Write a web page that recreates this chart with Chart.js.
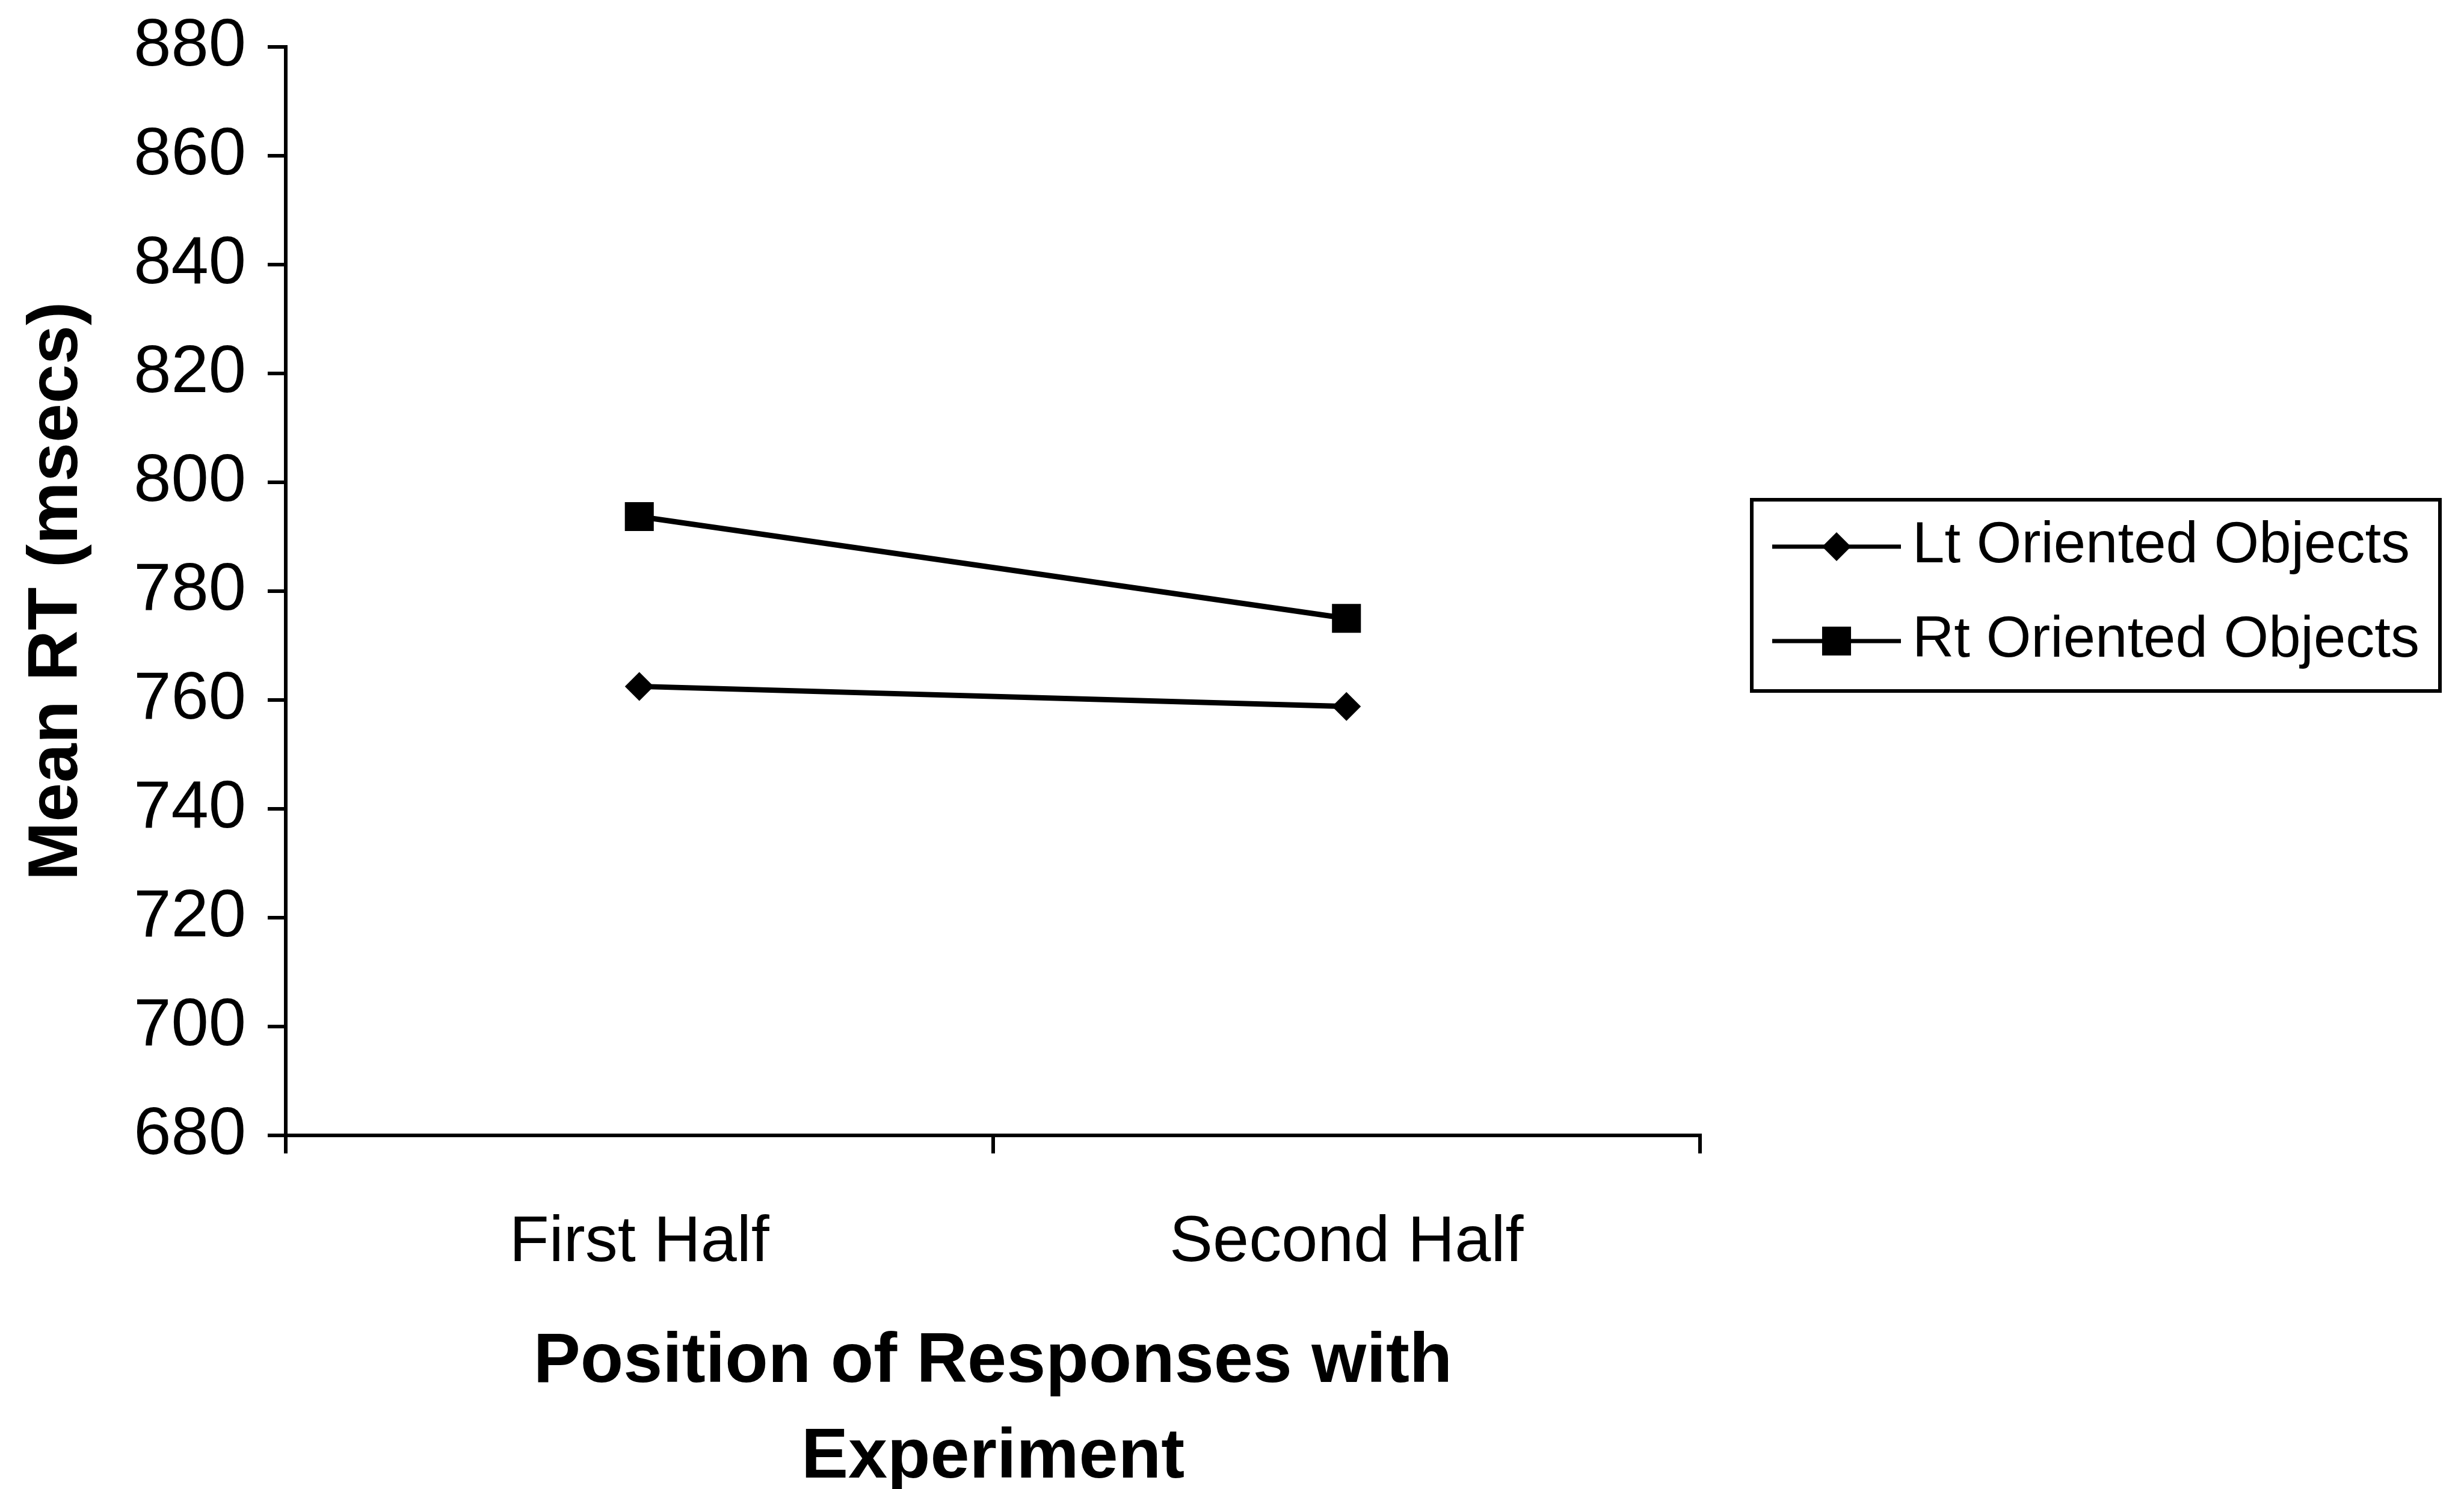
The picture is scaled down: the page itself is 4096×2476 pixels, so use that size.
<!DOCTYPE html>
<html>
<head>
<meta charset="utf-8">
<script src="https://cdn.jsdelivr.net/npm/chart.js@4.4.1/dist/chart.umd.min.js"></script>
<style>
  html, body { margin: 0; padding: 0; background: #fff; }
  #wrap { width: 4096px; height: 2476px; }
</style>
</head>
<body>
<div id="wrap"><canvas id="chart" width="4096" height="2476"></canvas></div>
<script>
// data
const categories = ['First Half', 'Second Half'];
const seriesNames = ['Lt Oriented Objects', 'Rt Oriented Objects'];
const ltOriented = [762.5, 758.8];
const rtOriented = [793.7, 775.0];
const yTicks = [680, 700, 720, 740, 760, 780, 800, 820, 840, 860, 880];

const FONT = '"Liberation Sans", Arial, sans-serif';

// boxed legend on the right, drawn by hand
const boxLegend = {
    id: 'boxLegend',
    afterDraw(chart) {
        const ctx = chart.ctx;
        ctx.save();
        ctx.strokeStyle = '#000';
        ctx.fillStyle = '#000';
        ctx.lineWidth = 6;
        ctx.strokeRect(2912, 831, 1144, 318);

        chart.data.datasets.forEach((ds, i) => {
            const y = 909 + i * 157;
            const cx = 3053;
            ctx.lineWidth = 7;
            ctx.beginPath();
            ctx.moveTo(2946, y);
            ctx.lineTo(3160, y);
            ctx.stroke();

            const r = ds.pointRadius;
            ctx.beginPath();
            if (ds.pointStyle === 'rect') {
                const s = r * Math.SQRT1_2;
                ctx.rect(cx - s, y - s, 2 * s, 2 * s);
            } else {
                ctx.moveTo(cx, y - r);
                ctx.lineTo(cx + r, y);
                ctx.lineTo(cx, y + r);
                ctx.lineTo(cx - r, y);
                ctx.closePath();
            }
            ctx.fill();

            ctx.font = '96px ' + FONT;
            ctx.textBaseline = 'middle';
            ctx.textAlign = 'left';
            ctx.fillText(ds.label, 3179, y);
        });
        ctx.restore();
    }
};

new Chart(document.getElementById('chart'), {
    type: 'line',
    data: {
        labels: categories,
        datasets: [
            {
                label: seriesNames[0],
                data: ltOriented,
                borderColor: '#000',
                backgroundColor: '#000',
                borderWidth: 9,
                pointStyle: 'rectRot',
                pointRadius: 24,
                pointBorderWidth: 0,
                tension: 0
            },
            {
                label: seriesNames[1],
                data: rtOriented,
                borderColor: '#000',
                backgroundColor: '#000',
                borderWidth: 9,
                pointStyle: 'rect',
                pointRadius: 34,
                pointBorderWidth: 0,
                tension: 0
            }
        ]
    },
    options: {
        responsive: false,
        animation: false,
        devicePixelRatio: 1,
        layout: { padding: { top: 78, right: 1270, bottom: 0, left: 0 } },
        plugins: {
            legend: { display: false },
            tooltip: { enabled: false }
        },
        scales: {
            x: {
                offset: true,
                grid: {
                    offset: true,
                    drawOnChartArea: false,
                    drawTicks: true,
                    tickLength: 30,
                    color: '#000',
                    lineWidth: 6
                },
                border: { display: true, color: '#000', width: 6 },
                ticks: {
                    color: '#000',
                    padding: 84,
                    font: { family: FONT, size: 108 }
                },
                title: {
                    display: true,
                    text: ['Position of Responses with', 'Experiment'],
                    color: '#000',
                    font: { family: FONT, size: 117, weight: 'bold', lineHeight: 1.36 },
                    padding: { top: 0, bottom: -28 }
                },
                afterFit(scale) {
                    scale.height = 588;
                    scale.paddingLeft = 0;
                    scale.paddingRight = 0;
                }
            },
            y: {
                min: 680,
                max: 880,
                afterBuildTicks(scale) {
                    scale.ticks = yTicks.map(v => ({ value: v }));
                },
                grid: {
                    drawOnChartArea: false,
                    drawTicks: true,
                    tickLength: 30,
                    color: '#000',
                    lineWidth: 6
                },
                border: { display: true, color: '#000', width: 6 },
                ticks: {
                    color: '#000',
                    padding: 36,
                    font: { family: FONT, size: 112 }
                },
                title: {
                    display: true,
                    text: 'Mean RT (msecs)',
                    color: '#000',
                    font: { family: FONT, size: 117, weight: 'bold', lineHeight: 1.2 },
                    padding: { top: 26, bottom: 0 }
                },
                afterFit(scale) {
                    scale.width = 475;
                    scale.paddingTop = 0;
                    scale.paddingBottom = 0;
                }
            }
        }
    },
    plugins: [boxLegend]
});
</script>
</body>
</html>
